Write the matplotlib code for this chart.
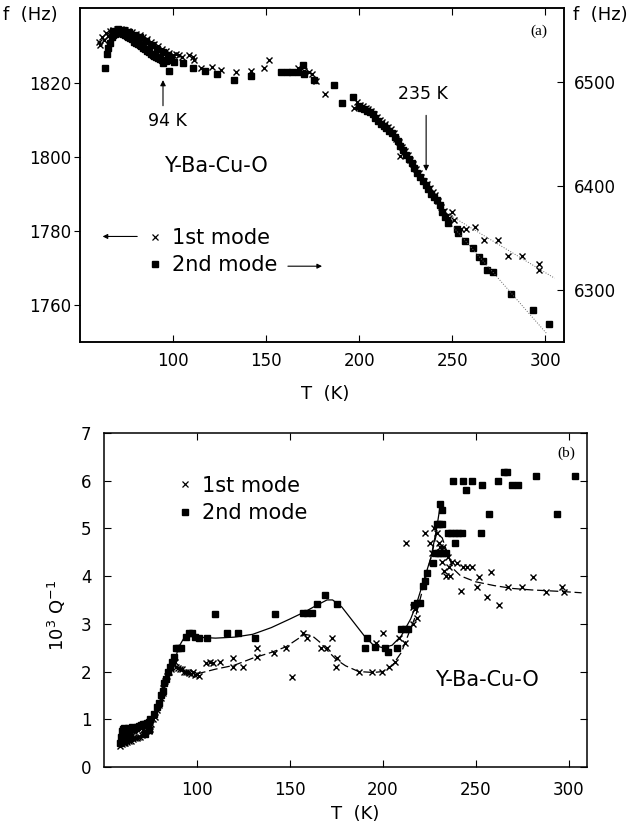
import matplotlib
matplotlib.use('Agg')
import matplotlib.pyplot as plt
from matplotlib.lines import Line2D

plt.rcParams['font.family'] = ['DejaVu Sans']
plt.rcParams['mathtext.fontset'] = 'dejavusans'

# ---------------- panel (a): resonance frequency ----------------
# 1st mode (left axis, Hz)
t1_a = [60, 62, 64, 66, 68, 70, 72, 74, 76, 78, 80, 82, 84, 86, 88, 90, 92, 94, 96, 98, 100,
        61, 63, 65, 67, 69, 71, 73, 75, 77, 79, 81, 83, 85, 87, 89, 91, 93, 95, 97, 99,
        101.6, 103, 105, 108.6, 110.7, 111.3, 115, 121, 125.7, 133.8, 141.8, 148.8, 151.5,
        167, 170.5, 173, 174.5, 176.6, 181.5, 197,
        199, 200.5, 202, 203.5, 205, 206.5, 208, 209.5, 211, 212.5, 214, 215.5, 217, 218.5,
        220, 221.5, 223, 224.5, 226, 227.5, 229, 230.5, 232, 233.5, 235, 236.5, 238, 239.5,
        241, 242.5, 244, 245.5, 247, 248.5, 222,
        250, 251.2, 254.8, 257.5, 262.4, 267, 274.8, 280, 287.6, 296.7, 296.7]
f1_a = [1830.8, 1832.2, 1833.2, 1833.8, 1834.2, 1834.4, 1834.4, 1834.2, 1833.9, 1833.5, 1833.1,
        1832.7, 1832.2, 1831.6, 1831.0, 1830.4, 1829.8, 1829.1, 1828.5, 1828.0, 1827.4,
        1830.0, 1831.5, 1832.4, 1832.9, 1833.2, 1833.3, 1833.2, 1832.9, 1832.6, 1832.2,
        1831.8, 1831.3, 1830.8, 1830.2, 1829.6, 1829.0, 1828.4, 1827.8, 1827.2, 1826.7,
        1827.8, 1827.3, 1826.9, 1827.3, 1826.8, 1826.0, 1823.8, 1824.1, 1823.5, 1822.7,
        1823.2, 1823.8, 1826.0,
        1823.8, 1823.0, 1822.7, 1822.2, 1820.4, 1817.0, 1813.0,
        1814.8, 1814.0, 1813.8, 1813.2, 1812.9, 1812.3, 1811.6, 1810.8, 1809.9, 1809.3,
        1808.8, 1808.0, 1807.4, 1806.4, 1804.8, 1803.9, 1802.6, 1801.5, 1800.5, 1799.2,
        1798.0, 1796.8, 1795.6, 1794.6, 1793.6, 1792.6, 1791.5, 1790.6, 1789.6, 1788.0,
        1786.5, 1785.3, 1784.0, 1783.5, 1800.3,
        1785.1, 1783.0, 1780.5, 1780.5, 1781.0, 1777.6, 1777.6, 1773.2, 1773.2, 1771.0, 1769.5]

# 2nd mode (right axis, Hz)
t2_a = [63.6, 64.3, 65, 66, 67, 68, 69, 70, 71, 72, 73, 74, 75, 76, 77, 78, 79, 80, 81, 82,
        83, 84, 85, 86, 87, 88, 89, 90, 91, 92, 93, 94, 94.6, 96, 97.9, 99, 100.6,
        67.5, 70.5, 73.5, 76.5, 79.5, 82.5, 85.5, 88.5, 91.5, 94.5, 97.5,
        105.4, 110.7, 117, 123.6, 132.7, 141.8, 158, 161, 164, 167, 169.7, 170.5, 175.6,
        186.3, 191, 196.5,
        199.7, 201.2, 202.7, 204.2, 205.7, 207.2, 208.7, 210.2, 211.7, 213.2, 214.7, 216.2,
        217.7, 219.2, 220.7, 222.2, 223.7, 225.2, 226.7, 228.2, 229.7, 231.2, 232.7, 234.2,
        235.7, 237.2, 238.7, 240.2, 241.7, 243.2, 244.7, 246.2, 247.7,
        252.7, 252.9, 257, 261.3, 264.6, 266.7, 268.9, 272, 281.7, 293.5, 302]
f2_a = [6514, 6527, 6533, 6538, 6543, 6545, 6546, 6547, 6547, 6547, 6546, 6545, 6544, 6543,
        6542, 6541, 6539, 6538, 6537, 6536, 6535, 6533, 6532, 6530, 6529, 6527, 6526, 6525,
        6524, 6523, 6522, 6521, 6518, 6520, 6511, 6521, 6519,
        6549, 6551, 6550, 6548, 6545, 6543, 6540, 6536, 6532, 6529, 6526,
        6518, 6513.5, 6510.6, 6507.7, 6502, 6505.8, 6509.6, 6509.6, 6509.6, 6509.6, 6516,
        6508, 6502, 6497, 6480, 6485.6,
        6477, 6475, 6474, 6472.5, 6471, 6469, 6466, 6463, 6460, 6458, 6456, 6453.5, 6451,
        6447, 6443, 6439, 6435, 6430, 6426, 6422, 6418, 6413, 6409, 6405, 6401, 6397, 6393,
        6390, 6387, 6382, 6375, 6370, 6365,
        6359, 6355, 6347, 6340.4, 6331.7, 6328, 6320, 6317.3, 6296, 6280.8, 6268]

# faint dotted guide lines at high T
fit1_a_t = [248, 305]
fit1_a_f = [1784.5, 1767.3]
fit2_a_t = [250, 301]
fit2_a_f = [6362, 6258]

# ---------------- panel (b): internal friction ----------------
t1_b = [58.5, 59.5, 60.5, 61.5, 62.5, 63.5, 64.5, 65.5, 66.5, 67.5, 68.5, 69.5, 70.5, 71.5,
        72.5, 73.5, 74.5, 75.5, 76.5, 59, 60, 61, 62, 63, 64, 65, 66, 72, 73,
        59, 61, 63, 65, 71, 74, 75,
        77.5, 78.5, 79.5, 80.5, 81.5, 82, 83, 84, 85, 86, 87, 88, 89, 90, 91, 92, 93, 94, 95,
        96, 97, 98, 99, 100, 101,
        105, 107, 108.6, 112.4, 119.4, 119.4, 124.6, 132.4, 132.4, 141.4, 147.8, 151, 157,
        159, 167, 169.8, 172.6, 175.3, 174.7, 187, 194, 199.4, 200, 196.2, 203.2, 206.4,
        208.6, 211.8, 216.1, 218.3, 217.2, 212.4, 216.1, 222.6, 225.3, 226.3, 229, 227.5,
        230, 231, 232, 233, 234, 230.6, 232.5, 235, 235.5, 236, 237, 239.8, 243, 245.5,
        247.8, 252, 258, 242, 250.5, 255.9, 262.4, 267.2, 274.7, 280.6, 288, 296.7, 297.3]
q1_b = [0.45, 0.48, 0.5, 0.5, 0.52, 0.55, 0.55, 0.58, 0.6, 0.6, 0.62, 0.63, 0.66, 0.7,
        0.75, 0.8, 0.85, 0.9, 1.0, 0.6, 0.68, 0.72, 0.75, 0.7, 0.72, 0.68, 0.76, 0.85, 0.88,
        0.52, 0.6, 0.62, 0.66, 0.78, 0.75, 0.8,
        1.05, 1.2, 1.3, 1.45, 1.55, 1.65, 1.8, 1.9, 2.0, 2.05, 2.15, 2.2, 2.1, 2.08, 2.05,
        2.05, 2.0, 2.0, 1.98, 1.97, 1.95, 1.98, 1.93, 1.95, 1.9,
        2.18, 2.2, 2.18, 2.2, 2.28, 2.1, 2.1, 2.49, 2.3, 2.39, 2.49, 1.89, 2.8,
        2.7, 2.49, 2.49, 2.7, 2.28, 2.1, 1.99, 1.99, 1.99, 2.8, 2.6, 2.1, 2.2,
        2.7, 2.6, 3.0, 3.12, 3.3, 4.7, 3.35, 4.9, 4.7, 4.49, 4.9, 5.0,
        4.7, 4.5, 4.3, 4.1, 4.0, 4.6, 4.6, 4.4, 4.2, 4.0, 4.3, 4.28, 4.19, 4.19,
        4.19, 3.98, 4.08, 3.69, 3.77, 3.57, 3.4, 3.77, 3.77, 3.98, 3.67, 3.77, 3.67]

t2_b = [58.5, 59, 59.5, 60, 60.5, 61, 61.5, 62, 63, 64, 65, 66, 67, 68, 69, 70, 71, 72, 73,
        74, 75, 60, 62, 64, 72, 74,
        77, 78.5, 79.5, 80.5, 81.5, 82.5, 83.5, 84.5, 85.5, 86.5, 87.5, 88.8, 90, 91.4,
        93.9, 95.7, 97.5, 99.2, 101, 105.4, 109.7, 116, 122, 131.2, 142, 157, 159, 162, 164.5,
        168.8, 175.3,
        190.3, 191.4, 195.7, 201, 202.7, 207.5, 210, 212, 213.4, 217, 218.5, 220,
        221.5, 222.6, 224, 226.8, 228, 229.5, 231, 232.5, 234, 229, 230.5, 232, 230.6, 231.7,
        235, 236.8, 238.7, 240.6, 242.5, 238.7, 253,
        238, 243, 247.8, 244.6, 253.2, 257, 261.8, 265, 267, 269.3, 273, 282.2, 293.5, 303.2]
q2_b = [0.5, 0.62, 0.75, 0.8, 0.55, 0.82, 0.68, 0.8, 0.82, 0.8, 0.83, 0.8, 0.82, 0.84,
        0.86, 0.88, 0.9, 0.9, 0.92, 0.95, 1.0, 0.68, 0.65, 0.6, 0.7, 0.78,
        1.1, 1.25, 1.35, 1.5, 1.6, 1.75, 1.85, 2.0,
        2.1, 2.2, 2.3, 2.5, 2.5, 2.5,
        2.73, 2.8, 2.8, 2.73, 2.7, 2.7, 3.2, 2.8, 2.8, 2.7, 3.2, 3.22, 3.22, 3.22, 3.42,
        3.6, 3.42,
        2.5, 2.7, 2.52, 2.5, 2.4, 2.5, 2.9, 2.9, 2.9, 3.4, 3.44, 3.44,
        3.8, 3.9, 4.07, 4.28, 4.49, 4.49, 4.49, 4.49, 4.49, 5.1, 5.1, 5.1, 5.5, 5.39,
        4.9, 4.9, 4.9, 4.9, 4.9, 4.7, 4.9,
        6.0, 6.0, 6.0, 5.8, 5.9, 5.3, 6.0, 6.18, 6.18, 5.9, 5.9, 6.1, 5.3, 6.1]

# guide curves drawn through the data
curve2_t = [88, 90, 93, 96, 100, 110, 120, 130, 140, 150, 158, 165, 170, 173, 178, 185,
            190, 195, 200, 205, 210, 215, 218, 222, 226, 229, 231]
curve2_q = [2.2, 2.5, 2.7, 2.75, 2.72, 2.7, 2.72, 2.78, 2.92, 3.1, 3.25, 3.4, 3.5, 3.5,
            3.35, 3.0, 2.75, 2.55, 2.5, 2.55, 2.75, 3.1, 3.4, 3.9, 4.4, 5.0, 5.5]
curve1_t = [100, 110, 120, 130, 140, 148, 153, 158, 162, 166, 170, 175, 180, 187, 195, 200,
            205, 210, 214, 218, 222, 226, 229, 232, 235, 238, 242, 250, 260, 270, 280, 295, 307]
curve1_q = [1.95, 2.05, 2.13, 2.28, 2.4, 2.52, 2.65, 2.78, 2.75, 2.62, 2.45, 2.25, 2.12,
            2.0, 1.98, 2.0, 2.12, 2.4, 2.8, 3.2, 3.8, 4.4, 4.9, 4.8, 4.45, 4.15, 4.0, 3.88,
            3.8, 3.74, 3.71, 3.68, 3.65]

x_ticks = [100, 150, 200, 250, 300]

fig = plt.figure(figsize=(6.4, 8.25), dpi=100)

# ---- (a) ----
ax = fig.add_axes([0.125, 0.585, 0.756, 0.405])
ax2 = ax.twinx()
ax.plot(t1_a, f1_a, 'x', color='black', ms=4.5, mew=1.0)
ax.plot(fit1_a_t, fit1_a_f, ':', color='0.4', lw=0.7)
ax2.plot(t2_a, f2_a, 's', color='black', ms=5)
ax2.plot(fit2_a_t, fit2_a_f, ':', color='0.4', lw=0.7)

ax.set_xlim(50, 310)
ax.set_ylim(1750, 1840)
ax2.set_ylim(6250, 6571)
ax.set_xticks(x_ticks)
ax.set_yticks([1760, 1780, 1800, 1820])
ax2.set_yticks([6300, 6400, 6500])
ax.tick_params(axis='x', direction='in', top=True, length=5, pad=7, labelsize=12)
ax.tick_params(axis='y', direction='out', length=4, pad=2, labelsize=12)
ax2.tick_params(axis='y', direction='in', length=5, pad=7, labelsize=12)
for a in (ax, ax2):
    for s in a.spines.values():
        s.set_linewidth(1.1)
ax.set_xlabel('T  (K)', fontsize=13)
ax.xaxis.set_label_coords(0.506, -0.128)

fig.text(0.005, 0.982, 'f  (Hz)', fontsize=13, va='center', ha='left')
fig.text(0.895, 0.982, 'f  (Hz)', fontsize=13, va='center', ha='left')
ax.text(0.948, 0.931, '(a)', transform=ax.transAxes, fontsize=11,
        family=['Liberation Serif'], ha='center', va='center')

ax.annotate('', xy=(94.6, 1821.4), xytext=(94.6, 1813),
            arrowprops=dict(arrowstyle='-|>', color='black', lw=0.8, mutation_scale=8))
ax.text(97, 1809.7, '94 K', fontsize=12.5, ha='center', va='center')
ax.annotate('', xy=(236, 1795.4), xytext=(236, 1811.9),
            arrowprops=dict(arrowstyle='-|>', color='black', lw=0.8, mutation_scale=8))
ax.text(234.5, 1817, '235 K', fontsize=12.5, ha='center', va='center')
ax.text(123, 1797.6, 'Y-Ba-Cu-O', fontsize=15, ha='center', va='center')

handles = [Line2D([], [], ls='none', marker='x', color='black', ms=4, mew=0.9),
           Line2D([], [], ls='none', marker='s', color='black', ms=4.3)]
ax2.legend(handles, ['1st mode', '2nd mode'], loc='center left',
           bbox_to_anchor=(0.143, 0.271), frameon=False, fontsize=15,
           handlelength=0.6, handletextpad=0.5, labelspacing=0.35, borderpad=0,
           borderaxespad=0)
ax2.annotate('', xy=(0.041, 0.317), xytext=(0.124, 0.317), xycoords='axes fraction',
             arrowprops=dict(arrowstyle='-|>', color='black', lw=0.8, mutation_scale=7))
ax2.annotate('', xy=(0.506, 0.228), xytext=(0.424, 0.228), xycoords='axes fraction',
             arrowprops=dict(arrowstyle='-|>', color='black', lw=0.8, mutation_scale=7))

# ---- (b) ----
bx = fig.add_axes([0.1625, 0.0703, 0.755, 0.405])
bx.plot(curve2_t, curve2_q, '-', color='black', lw=0.9)
bx.plot(curve1_t, curve1_q, color='black', lw=0.9, ls=(0, (7, 3)))
bx.plot(t1_b, q1_b, 'x', color='black', ms=4.5, mew=1.0)
bx.plot(t2_b, q2_b, 's', color='black', ms=5)
bx.set_xlim(50, 310)
bx.set_ylim(0, 7)
bx.set_xticks(x_ticks)
bx.set_yticks(range(0, 8))
bx.tick_params(direction='in', top=True, right=True, length=5, labelsize=12)
bx.tick_params(axis='x', pad=10)
bx.tick_params(axis='y', pad=9)
for s in bx.spines.values():
    s.set_linewidth(1.1)
bx.set_xlabel('T  (K)', fontsize=13)
bx.xaxis.set_label_coords(0.52, -0.115)
bx.set_ylabel('10$^3$ Q$^{-1}$', fontsize=13)
bx.yaxis.set_label_coords(-0.075, 0.455)
bx.text(0.957, 0.940, '(b)', transform=bx.transAxes, fontsize=11,
        family=['Liberation Serif'], ha='center', va='center')
bx.text(256, 1.82, 'Y-Ba-Cu-O', fontsize=15, ha='center', va='center')
bx.legend(handles, ['1st mode', '2nd mode'], loc='center left',
          bbox_to_anchor=(0.155, 0.801), frameon=False, fontsize=15,
          handlelength=0.6, handletextpad=0.5, labelspacing=0.35, borderpad=0,
          borderaxespad=0)

fig.savefig('out.png', dpi=100)
